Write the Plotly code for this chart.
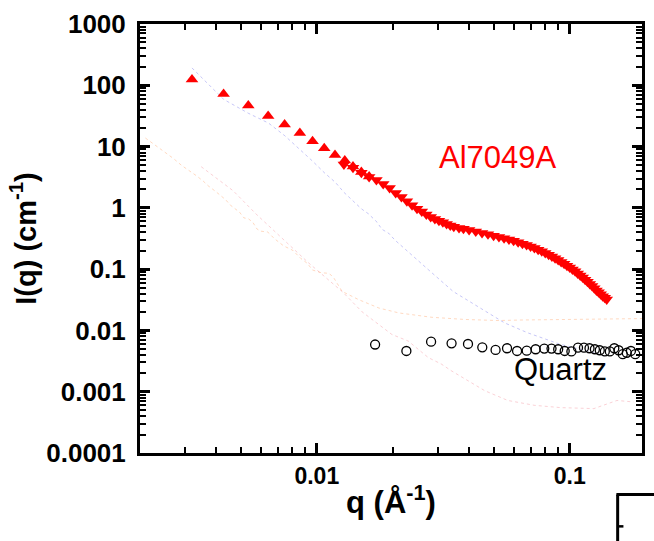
import plotly.graph_objects as go

# ---------------- data ----------------
al_up_q = [0.00321, 0.00428, 0.00536, 0.00642, 0.00746, 0.00857, 0.00962, 0.0107,
           0.0118, 0.0129, 0.0139, 0.0150, 0.0161]
al_up_I = [124, 72, 46.8, 31.4, 23.0, 16.7, 12.2, 9.42, 7.26, 5.94, 4.75, 3.85, 3.25]

al_dn_q = [0.0128, 0.0139, 0.0150, 0.0161, 0.0172, 0.0183, 0.0194, 0.0205, 0.0216,
           0.0227, 0.0238, 0.0249, 0.0260, 0.0271, 0.0282, 0.0293, 0.0304, 0.0315,
           0.0326, 0.0337, 0.0348, 0.0365, 0.0380, 0.0400, 0.0425, 0.0450, 0.0475,
           0.0500, 0.0525, 0.0550, 0.0575, 0.0600, 0.0625, 0.0650, 0.0675, 0.0700,
           0.0725, 0.0750, 0.0775, 0.0800, 0.0825, 0.0850, 0.0875, 0.0900, 0.0925,
           0.0950, 0.0975, 0.1000, 0.1025, 0.1050, 0.1075, 0.1100, 0.1125, 0.1150,
           0.1175, 0.1200, 0.1225, 0.1250, 0.1275, 0.1300, 0.1325, 0.1350, 0.1375,
           0.1400]
al_dn_I = [5.1, 4.5, 3.75, 3.2, 2.85, 2.45, 2.1, 1.75, 1.5,
           1.28, 1.1, 0.97, 0.87, 0.78, 0.71, 0.66, 0.615, 0.58,
           0.545, 0.515, 0.49, 0.47, 0.455, 0.435, 0.41, 0.39, 0.37,
           0.35, 0.335, 0.32, 0.305, 0.29, 0.275, 0.26, 0.248, 0.235,
           0.222, 0.208, 0.196, 0.184, 0.172, 0.161, 0.151, 0.141, 0.131,
           0.122, 0.114, 0.106, 0.099, 0.092, 0.085, 0.079, 0.073, 0.067,
           0.062, 0.057, 0.053, 0.049, 0.045, 0.042, 0.039, 0.036, 0.034,
           0.032]

quartz_q = [0.0170, 0.0226, 0.0283, 0.0341, 0.0396, 0.0451, 0.0509, 0.0565, 0.0619,
            0.0676, 0.0733, 0.0793, 0.0847, 0.0900, 0.0955, 0.1015, 0.1078, 0.1138,
            0.1197, 0.1257, 0.1314, 0.1376, 0.1440, 0.1500, 0.1560, 0.1620, 0.1680,
            0.1745, 0.1815]
quartz_I = [0.00589, 0.00462, 0.00655, 0.00617, 0.00601, 0.00531, 0.00481, 0.00512,
            0.00462, 0.00468, 0.00493, 0.00505, 0.00505, 0.00493, 0.00462, 0.00455,
            0.00524, 0.00524, 0.00512, 0.00493, 0.00475, 0.00455, 0.00455, 0.00512,
            0.00475, 0.00409, 0.00432, 0.00462, 0.00409]

# faint background curves
orange_q = [0.00210, 0.00230, 0.00251, 0.00271, 0.00292, 0.00313, 0.00335, 0.00356,
            0.00372, 0.00395, 0.00413, 0.00436, 0.00455, 0.00476, 0.00495, 0.00515,
            0.00537, 0.00558, 0.00579, 0.00597, 0.00640, 0.00680, 0.00740, 0.00802,
            0.00865, 0.00918, 0.00961, 0.0104, 0.0112, 0.0117, 0.0126, 0.01466,
            0.0176, 0.0211, 0.0284, 0.0385, 0.0520, 0.065, 0.080, 0.100, 0.120,
            0.140, 0.160, 0.180, 0.193]
orange_I = [13.8, 10.5, 7.9, 6.4, 4.93, 4.09, 3.32, 2.72,
            2.29, 1.90, 1.64, 1.36, 1.11, 0.96, 0.85, 0.686,
            0.661, 0.585, 0.456, 0.418, 0.403, 0.314, 0.239, 0.204,
            0.149, 0.124, 0.0969, 0.0875, 0.0853, 0.0708, 0.0432, 0.0317,
            0.0232, 0.0193, 0.0164, 0.0151, 0.0145, 0.0148, 0.0150, 0.0152, 0.0153,
            0.0155, 0.0156, 0.0156, 0.0156]

pink_q = [0.00349, 0.00467, 0.00579, 0.00701, 0.00927, 0.01268, 0.0151, 0.0198,
          0.0230, 0.0276, 0.0311, 0.0340, 0.0396, 0.0461, 0.0569, 0.0724, 0.0921,
          0.1245, 0.1537, 0.1788]
pink_I = [4.70, 1.90, 0.773, 0.370, 0.127, 0.042, 0.0201, 0.0086,
          0.0067, 0.0036, 0.00282, 0.0022, 0.00151, 0.00104, 0.00072, 0.00060, 0.00055,
          0.00053, 0.00072, 0.00068]

blue_q = [0.00321, 0.00428, 0.00536, 0.00644, 0.00746, 0.00852, 0.00961, 0.0107,
          0.01186, 0.0128, 0.0140, 0.01503, 0.0160, 0.0173, 0.0181, 0.0192, 0.0204,
          0.0224, 0.0276, 0.0346, 0.0415, 0.0552, 0.0682, 0.0918, 0.1246, 0.1365]
blue_I = [192, 59, 35, 24.2, 15.1, 9.18, 5.81, 3.76,
          2.59, 1.79, 1.28, 0.96, 0.80, 0.585, 0.446, 0.388, 0.296,
          0.212, 0.098, 0.0432, 0.0276, 0.0133, 0.00914, 0.00593, 0.00435, 0.00385]

y_tick_vals = [1e-4, 1e-3, 1e-2, 1e-1, 1, 10, 100, 1000]
y_tick_text = ["0.0001", "0.001", "0.01", "0.1", "1", "10", "100", "1000"]
x_tick_vals = [0.01, 0.1]
x_tick_text = ["0.01", "0.1"]

FONT = "Liberation Sans, Arial, sans-serif"

fig = go.Figure()

# faint dotted curves
for qq, ii, col in [(orange_q, orange_I, "rgba(255,130,50,0.30)"),
                    (pink_q, pink_I, "rgba(235,70,90,0.25)"),
                    (blue_q, blue_I, "rgba(70,70,230,0.30)")]:
    fig.add_trace(go.Scatter(x=qq, y=ii, mode="lines",
                             line=dict(color=col, width=1, dash="dot"),
                             hoverinfo="skip", showlegend=False))

fig.add_trace(go.Scatter(x=quartz_q, y=quartz_I, mode="markers",
                         marker=dict(symbol="circle-open", size=9, color="black",
                                     line=dict(width=1.3, color="black")),
                         showlegend=False))
fig.add_trace(go.Scatter(x=al_dn_q, y=al_dn_I, mode="markers",
                         marker=dict(symbol="triangle-down", size=11, color="#ff0000",
                                     line=dict(width=0)),
                         showlegend=False))
fig.add_trace(go.Scatter(x=al_up_q, y=al_up_I, mode="markers",
                         marker=dict(symbol="triangle-up", size=11, color="#ff0000",
                                     line=dict(width=0)),
                         showlegend=False))

# labels (log axes: positions given as log10 of data values)
fig.add_annotation(x=-1.284, y=0.818, xref="x", yref="y", text="Al7049A",
                   showarrow=False, font=dict(family=FONT, size=31, color="#ff0000"),
                   xanchor="center", yanchor="middle")
fig.add_annotation(x=-1.037, y=-2.642, xref="x", yref="y", text="Quartz",
                   showarrow=False, font=dict(family=FONT, size=31, color="black"),
                   xanchor="center", yanchor="middle")

axis_common = dict(
    type="log", showline=True, linewidth=3, linecolor="black", mirror="ticks",
    ticks="inside", ticklen=10, tickwidth=2.5, tickcolor="black",
    showgrid=False, zeroline=False,
    minor=dict(ticks="inside", ticklen=6, tickwidth=2, tickcolor="black",
               dtick="D1", showgrid=False),
)

fig.update_xaxes(
    **axis_common,
    range=[-2.699, -0.7144],
    tickvals=x_tick_vals,
    ticktext=["<b>%s</b>" % t for t in x_tick_text],
    tickfont=dict(family=FONT, size=23, color="black"),
    title=dict(text="<b>q (Å<sup>-1</sup>)</b>",
               font=dict(family=FONT, size=31, color="black"), standoff=4),
)
fig.update_yaxes(
    **axis_common,
    range=[-4, 3],
    tickvals=y_tick_vals,
    ticktext=["<b>%s</b>" % t for t in y_tick_text],
    tickfont=dict(family=FONT, size=26, color="black"),
    ticklabelstandoff=6,
    title=dict(text="<b>I(q) (cm<sup>-1</sup>)</b>",
               font=dict(family=FONT, size=29, color="black"), standoff=2),
)

# fragment of a neighbouring frame at the bottom-right corner
fig.add_shape(type="line", xref="paper", yref="paper", x0=0.949, x1=1.03,
              y0=-0.097, y1=-0.097, line=dict(color="black", width=3))
fig.add_shape(type="line", xref="paper", yref="paper", x0=0.9515, x1=0.9515,
              y0=-0.097, y1=-0.25, line=dict(color="black", width=3))
fig.add_shape(type="line", xref="paper", yref="paper", x0=0.9515, x1=0.963,
              y0=-0.171, y1=-0.171, line=dict(color="black", width=2.5))

fig.update_layout(
    width=654, height=541,
    margin=dict(l=140, r=9, t=20, b=88),
    plot_bgcolor="white", paper_bgcolor="white",
    showlegend=False,
)

fig.write_html("out.html")
